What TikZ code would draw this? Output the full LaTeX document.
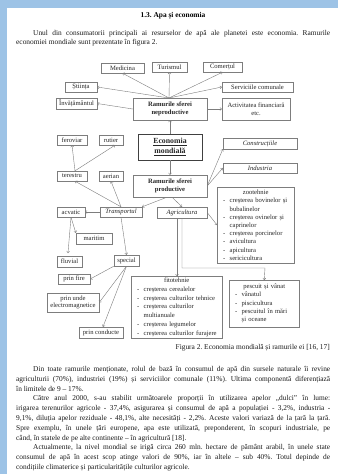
\documentclass[tikz,border=0pt]{standalone}
\usepackage{fontspec}
\setmainfont{Liberation Serif}
\usetikzlibrary{arrows.meta}
\definecolor{pageblue}{RGB}{157,195,230}
\definecolor{boxgray}{RGB}{125,125,125}
\frenchspacing
\newcommand{\dfont}{\fontsize{6.6}{7.6}\selectfont}
\newcommand{\txtfont}{\fontsize{7.4}{9.5}\selectfont}
\newcommand{\li}[1]{\hspace*{6pt}\makebox[6.5pt][l]{-}\mbox{#1}}
\newcommand{\lc}[1]{\hspace*{12.5pt}\mbox{#1}}
\newcommand{\ctr}[2]{\makebox[#1][c]{#2}}
\begin{document}
\begin{tikzpicture}[x=1pt,y=-1pt,
  box/.style={draw=boxgray, line width=0.4pt, inner sep=0pt, font=\dfont, align=center, text=black!85},
  listbox/.style={draw=boxgray, line width=0.4pt, inner xsep=0pt, inner ysep=2pt, anchor=north west, align=left, text=black!85},
  arr/.style={draw=boxgray, line width=0.4pt, -{To[length=2pt,width=3.2pt]}},
  body/.style={font=\txtfont, inner sep=0pt, anchor=base west, text=black!90}]
\useasboundingbox (0,0) rectangle (338,474);
\fill[white] (0,0) rectangle (338,474);
\fill[pageblue] (0,0) rectangle (338,8);
\fill[pageblue] (0,0) rectangle (7,474);

% body text top
\node[font=\txtfont\bfseries, inner sep=0pt, anchor=base] (title) at (173,17) {1.3. Apa și economia};
\node[body] (p1a) at (33,35) {\makebox[297pt][s]{Unul din consumatorii principali ai resurselor de apă ale planetei este economia. Ramurile}};
\node[body] (p1b) at (16,44.5) {economiei mondiale sunt prezentate în figura 2.};

% top row
\node[box, minimum width=43pt, minimum height=10pt] (med) at (122.5,68) {Medicina};
\node[box, minimum width=35pt, minimum height=10pt] (tur) at (169.5,67) {Turismul};
\node[box, minimum width=39pt, minimum height=10pt] (com) at (222.5,67) {Comerțul};
\node[box, minimum width=32pt, minimum height=10pt] (sti) at (81,87) {Știința};
\node[box, minimum width=71pt, minimum height=10pt] (serv) at (257.5,87) {Serviciile comunale};
\node[box, minimum width=41pt, minimum height=11pt] (inv) at (76.5,103.5) {Învățământul};
\node[box, minimum width=74pt, minimum height=22pt, font=\dfont\bfseries] (nep) at (170,109) {Ramurile sferei\\neproductive};
\node[box, minimum width=68pt, minimum height=22pt] (fin) at (256,109) {Activitatea financiară\\etc.};

% middle
\node[box, minimum width=64pt, minimum height=26pt, line width=0.9pt, draw=black!75, font=\fontsize{7.8}{10}\selectfont\bfseries] (ec) at (170,147) {\underline{Economia}\\\underline{mondială}};
\node[box, minimum width=30pt, minimum height=10pt] (fer) at (72,140) {feroviar};
\node[box, minimum width=24pt, minimum height=10pt] (rut) at (111,140) {rutier};
\node[box, minimum width=74pt, minimum height=11pt, font=\dfont\itshape] (con) at (260,143.5) {Construcțiile};
\node[box, minimum width=30pt, minimum height=10pt] (ter) at (72,176) {terestru};
\node[box, minimum width=24pt, minimum height=10pt] (aer) at (111,176) {aerian};
\node[box, minimum width=74pt, minimum height=10pt, font=\dfont\itshape] (ind) at (260,168) {Industria};
\node[box, minimum width=74pt, minimum height=22pt, font=\dfont\bfseries] (prod) at (170,186) {Ramurile sferei\\productive};

\node[listbox, minimum width=77pt, minimum height=76pt, text width=77pt, font=\fontsize{6.6}{8.2}\selectfont] (zoo) at (217,187) {%
\ctr{77pt}{zootehnie}\\
\li{creșterea bovinelor și}\\
\lc{bubalinelor}\\
\li{creșterea ovinelor și}\\
\lc{caprinelor}\\
\li{creșterea porcinelor}\\
\li{avicultura}\\
\li{apicultura}\\
\li{sericicultura}};

\node[box, minimum width=28pt, minimum height=10pt] (acv) at (71,212) {acvatic};
\node[box, minimum width=42pt, minimum height=10pt, font=\dfont\itshape] (tra) at (121,212) {Transportul};
\node[box, minimum width=50pt, minimum height=11pt, font=\dfont\itshape] (agr) at (182,212.5) {Agricultura};
\node[box, minimum width=36pt, minimum height=11pt] (mar) at (94,238.5) {maritim};
\node[box, minimum width=25pt, minimum height=11pt] (flu) at (69.5,261.5) {fluvial};
\node[box, minimum width=25pt, minimum height=11pt] (spe) at (126.5,260.5) {special};
\node[box, minimum width=32pt, minimum height=10pt] (fire) at (74,279) {prin fire};
\node[box, minimum width=52pt, minimum height=19pt] (unde) at (73,302.5) {prin unde\\electromagnetice};
\node[box, minimum width=44pt, minimum height=11pt] (cond) at (101,332.5) {prin conducte};

\node[listbox, minimum width=91pt, minimum height=62pt, text width=91pt, font=\fontsize{6.6}{8.7}\selectfont] (fito) at (131,276) {%
\ctr{91pt}{fitotehnie}\\
\li{creșterea cerealelor}\\
\li{creșterea culturilor tehnice}\\
\li{creșterea culturilor}\\
\lc{multianuale}\\
\li{creșterea legumelor}\\
\li{creșterea culturilor furajere}};

\node[listbox, minimum width=70pt, minimum height=47pt, text width=70pt, font=\fontsize{6.6}{8.3}\selectfont] (pesc) at (229,280) {%
\ctr{70pt}{pescuit și vânat}\\
\li{vânatul}\\
\li{piscicultura}\\
\li{pescuitul în mări}\\
\lc{și oceane}};

\coordinate (hub) at (169,98);
\coordinate (fluend) at (68,253);
\coordinate (bendA) at (182,268);
\coordinate (bendB) at (265,268);

% connectors
\draw[arr] (hub) -- (med.south);
\draw[arr] (hub) -- (tur.south);
\draw[arr] (hub) -- (com.south);
\draw[arr] (hub) -- (sti.east);
\draw[arr] (hub) -- (serv.west);
\draw[arr] (nep.west) -- (inv.east);
\draw[arr] (nep.east) -- (fin.west);
\draw[arr] (ec.north) -- (nep.south);
\draw[arr] (ec.south) -- (prod.north);
\draw[arr] (prod.east) -- (con.south west);
\draw[arr] (prod.east) -- (ind.west);
\draw[arr] ([xshift=-3pt]prod.south) -- (tra.north east);
\draw[arr] ([xshift=2pt]prod.south) -- (agr.north);
\draw[arr] (tra.north) -- ([xshift=3pt]ter.south);
\draw[arr] (tra.north) -- (aer.south);
\draw[arr] ([xshift=3pt]ter.north) -- (fer.south);
\draw[arr] ([xshift=3pt]ter.north) -- ([xshift=4pt]rut.south);
\draw[arr] (tra.west) -- (acv.east);
\draw[arr] (acv.south) -- (mar.north west);
\draw[arr] (acv.south) -- (fluend);
\draw[arr] (tra.south) -- (spe.north);
\draw[arr] (spe.south west) -- (fire.east);
\draw[arr] (spe.south) -- (unde.east);
\draw[arr] (spe.south) -- ([xshift=2pt]cond.north);
\draw[arr] (agr.east) -- (zoo.west |- 0,225);
\draw[arr] ([xshift=-5pt]agr.south) -- ([xshift=-5pt]agr.south |- fito.north);
\draw[arr] (agr.south) -- (bendA) -- (bendB) -- (pesc.north);

% caption and body
\node[font=\txtfont, inner sep=0pt, anchor=base east, text=black!90] (cap) at (330,349) {Figura 2. Economia mondială și ramurile ei [16, 17]};
\node[body] (p2a) at (33,371.5) {\makebox[297pt][s]{Din toate ramurile menționate, rolul de bază în consumul de apă din sursele naturale îi revine}};
\node[body] (p2b) at (16,381.3) {\makebox[314pt][s]{agriculturii (70\%), industriei (19\%) și serviciilor comunale (11\%). Ultima componentă diferențiază}};
\node[body] (p2c) at (16,391.1) {în limitele de 9 – 17\%.};
\node[body] (p3a) at (33,400.9) {\makebox[297pt][s]{Către anul 2000, s-au stabilit următoarele proporții în utilizarea apelor „dulci” în lume:}};
\node[body] (p3b) at (16,410.7) {\makebox[314pt][s]{irigarea terenurilor agricole - 37,4\%, asigurarea și consumul de apă a populației - 3,2\%, industria -}};
\node[body] (p3c) at (16,420.5) {\makebox[314pt][s]{9,1\%, diluția apelor reziduale - 48,1\%, alte necesități - 2,2\%. Aceste valori variază de la țară la țară.}};
\node[body] (p3d) at (16,430.3) {\makebox[314pt][s]{Spre exemplu, în unele țări europene, apa este utilizată, preponderent, în scopuri industriale, pe}};
\node[body] (p3e) at (16,440.1) {când, în statele de pe alte continente – în agricultură [18].};
\node[body] (p4a) at (33,449.9) {\makebox[297pt][s]{Actualmente, la nivel mondial se irigă circa 260 mln. hectare de pământ arabil, în unele state}};
\node[body] (p4b) at (16,459.7) {\makebox[314pt][s]{consumul de apă în acest scop atinge valori de 90\%, iar în altele – sub 40\%. Totul depinde de}};
\node[body] (p4c) at (16,469.5) {condițiile climaterice și particularitățile culturilor agricole.};
\end{tikzpicture}
\end{document}
